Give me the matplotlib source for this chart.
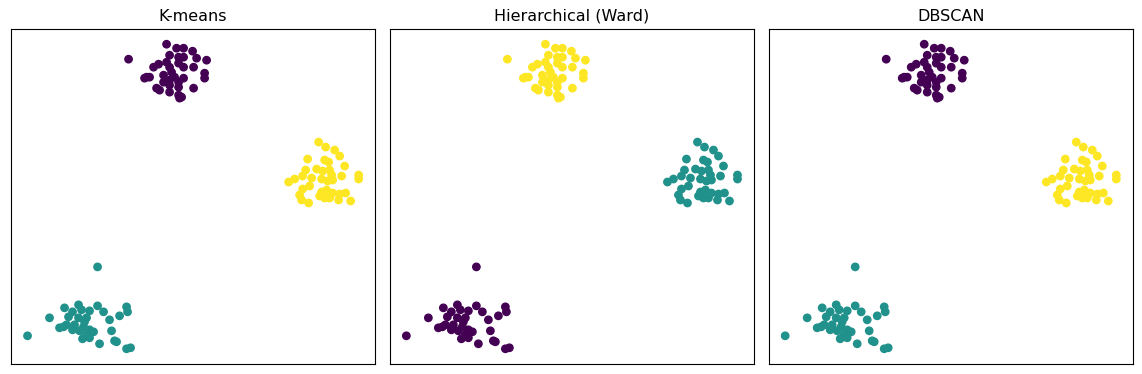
import numpy as np
import matplotlib.pyplot as plt

# point coordinates (three blobs)
top_x = [127, 165, 175, 182, 191, 195, 205, 168, 177, 182, 157, 165, 152, 168, 177, 182, 192, 143, 148, 162,
         170, 173, 182, 203, 203, 162, 168, 177, 168, 155, 158, 168, 177, 192, 177, 180, 178, 145]
top_y = [59, 44, 48, 48, 51, 58, 60, 55, 57, 57, 64, 62, 67, 67, 63, 67, 67, 78, 77, 75,
         72, 77, 78, 73, 78, 82, 80, 82, 85, 88, 90, 92, 87, 88, 95, 97, 98, 77]

right_x = [317, 324, 333, 338, 306, 323, 327, 343, 304, 315, 321, 328, 330, 340, 357, 357, 293, 287, 301, 310,
           320, 326, 331, 308, 301, 320, 325, 331, 338, 344, 298, 323, 328, 337, 300, 307, 349, 318]
right_y = [142, 147, 150, 156, 159, 160, 162, 166, 170, 169, 171, 170, 175, 176, 175, 179, 179, 182, 176, 178,
           179, 181, 180, 186, 189, 192, 190, 193, 194, 193, 195, 198, 198, 200, 200, 203, 201, 196]

low_x = [96, 63, 77, 71, 80, 88, 96, 102, 108, 125, 126, 118, 48, 67, 77, 85, 58, 65, 73, 82,
         71, 88, 92, 78, 85, 110, 26, 81, 88, 113, 115, 98, 125, 129, 83, 62]
low_y = [267, 308, 305, 312, 310, 311, 306, 312, 320, 307, 312, 316, 318, 317, 318, 318, 328, 325, 325, 327,
         330, 330, 332, 331, 335, 331, 336, 339, 338, 341, 342, 344, 349, 348, 322, 327]

titles = ['K-means', 'Hierarchical (Ward)', 'DBSCAN']
# cluster label of each blob (top, right, low) per method
blob_labels = [[0, 2, 1], [2, 1, 0], [0, 2, 1]]

x = np.array(top_x + right_x + low_x, dtype=float)
y = -np.array(top_y + right_y + low_y, dtype=float)
sizes = [len(top_x), len(right_x), len(low_x)]

fig, axes = plt.subplots(1, 3, figsize=(11.42, 3.74), dpi=100)
for ax, title, bl in zip(axes, titles, blob_labels):
    labels = np.repeat(bl, sizes)
    ax.scatter(x, y, c=labels, cmap='viridis', s=28)
    ax.set_title(title, fontsize=11.5)
    ax.set_xticks([])
    ax.set_yticks([])

plt.subplots_adjust(left=0.0096, right=0.992, top=0.9225, bottom=0.0267, wspace=0.04)
plt.savefig('out.png')
